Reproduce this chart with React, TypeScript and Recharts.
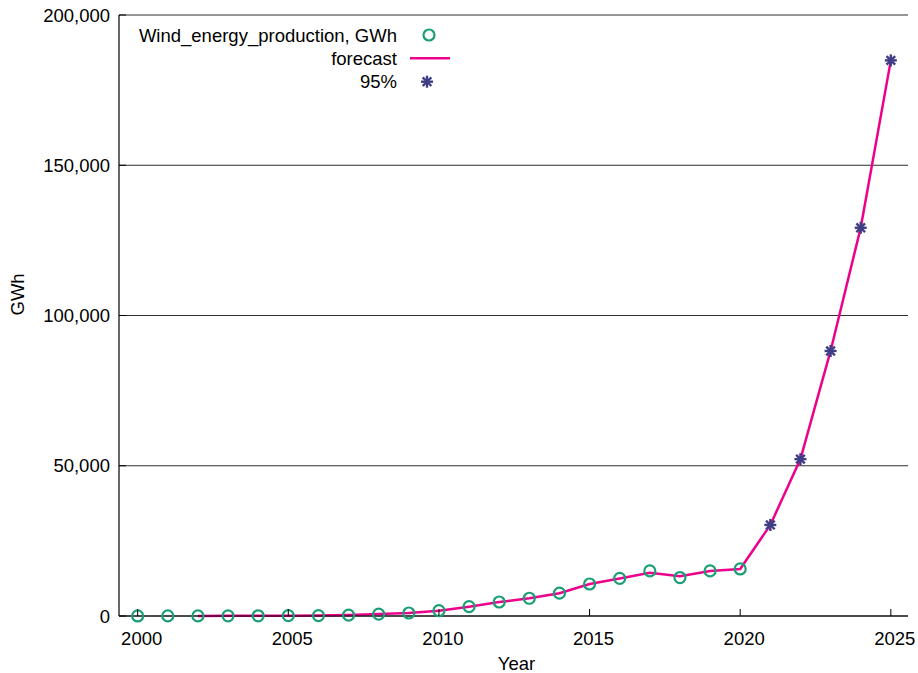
import React from 'react';
import {
  ComposedChart,
  Line,
  XAxis,
  YAxis,
  CartesianGrid,
  Label,
} from 'recharts';

// Years shown on the chart
const years = [
  2000, 2001, 2002, 2003, 2004, 2005, 2006, 2007, 2008, 2009, 2010, 2011, 2012,
  2013, 2014, 2015, 2016, 2017, 2018, 2019, 2020, 2021, 2022, 2023, 2024, 2025,
];

// Measured wind energy production, GWh (2000–2020)
const production = [
  10, 20, 30, 50, 70, 100, 150, 300, 650, 1000, 1760, 3100, 4660, 5900, 7600,
  10650, 12500, 15000, 12800, 15000, 15650,
];

// Model forecast, GWh (2002–2025)
const forecastStartYear = 2002;
const forecast = [
  30, 50, 70, 100, 150, 300, 650, 1000, 1760, 3100, 4660, 5900, 7600, 10650,
  12500, 14400, 13200, 15000, 15650, 30300, 52200, 88200, 129200, 184900,
];

// 95% bound, GWh (2021–2025)
const boundStartYear = 2021;
const bound95 = [30300, 52200, 88200, 129200, 184900];

const xTicks = [2000, 2005, 2010, 2015, 2020, 2025];
const yTicks = [0, 50000, 100000, 150000, 200000];

const seriesNames = ['Wind_energy_production, GWh', 'forecast', '95%'];

const GREEN = '#1b9e77';
const MAGENTA = '#ec008c';
const PURPLE = '#3f3d85';
const FONT = '"Liberation Sans", Arial, Helvetica, sans-serif';
const FONT_SIZE = 18.5;
const TICK_LEN = 7;
const CIRCLE_R = 5.5;
const CIRCLE_W = 2.2;

const rows = years.map((year, i) => {
  const fi = year - forecastStartYear;
  const bi = year - boundStartYear;
  return {
    year,
    production: i < production.length ? production[i] : null,
    forecast: fi >= 0 && fi < forecast.length ? forecast[fi] : null,
    bound: bi >= 0 && bi < bound95.length ? bound95[bi] : null,
  };
});

const fmt = (v: number) => v.toLocaleString('en-US');

function Star({ cx, cy, r = 6 }: { cx: number; cy: number; r?: number }) {
  const d = r * 0.72;
  return (
    <g stroke={PURPLE} strokeWidth={2.4} strokeLinecap="butt">
      <line x1={cx - r} y1={cy} x2={cx + r} y2={cy} />
      <line x1={cx} y1={cy - r} x2={cx} y2={cy + r} />
      <line x1={cx - d} y1={cy - d} x2={cx + d} y2={cy + d} />
      <line x1={cx - d} y1={cy + d} x2={cx + d} y2={cy - d} />
    </g>
  );
}

const circleDot = (props: any) => {
  const { cx, cy, index, value } = props;
  if (cy == null || value == null || isNaN(cy)) return <g key={`c${index}`} />;
  return (
    <circle
      key={`c${index}`}
      cx={cx}
      cy={cy}
      r={CIRCLE_R}
      fill="none"
      stroke={GREEN}
      strokeWidth={CIRCLE_W}
    />
  );
};

const starDot = (props: any) => {
  const { cx, cy, index, value } = props;
  if (cy == null || value == null || isNaN(cy)) return <g key={`s${index}`} />;
  return (
    <g key={`s${index}`}>
      <Star cx={cx} cy={cy} />
    </g>
  );
};

// Bottom axis: inward tick mark plus year label
const BottomTick = (props: any) => {
  const { x, y, payload } = props;
  const axisY = y - 22;
  return (
    <g>
      <line x1={x} x2={x} y1={axisY} y2={axisY - TICK_LEN} stroke="#000" strokeWidth={1} />
      <text
        x={x + 4}
        y={y}
        textAnchor="middle"
        dominantBaseline="central"
        fontFamily={FONT}
        fontSize={FONT_SIZE}
        fill="#000"
      >
        {payload.value}
      </text>
    </g>
  );
};

// Left axis: inward tick mark plus value label
const LeftTick = (props: any) => {
  const { x, y, payload } = props;
  const axisX = x + 9;
  return (
    <g>
      <line x1={axisX} x2={axisX + TICK_LEN} y1={y} y2={y} stroke="#000" strokeWidth={1} />
      <text
        x={x}
        y={y}
        textAnchor="end"
        dominantBaseline="central"
        fontFamily={FONT}
        fontSize={FONT_SIZE}
        fill="#000"
      >
        {fmt(payload.value)}
      </text>
    </g>
  );
};

// Mirrored tick marks on the top and right border
const TopTick = (props: any) => {
  const { x, y } = props;
  return <line x1={x} x2={x} y1={y} y2={y + TICK_LEN} stroke="#000" strokeWidth={1} />;
};

const RightTick = (props: any) => {
  const { x, y } = props;
  return <line x1={x} x2={x - TICK_LEN} y1={y} y2={y} stroke="#000" strokeWidth={1} />;
};

function KeyBox() {
  const textRight = 397;
  const symX = 429;
  const rowsY = [35, 58.3, 81.7];
  return (
    <svg
      width={918}
      height={110}
      style={{ position: 'absolute', left: 0, top: 0, pointerEvents: 'none' }}
    >
      {seriesNames.map((name, i) => (
        <text
          key={name}
          x={textRight}
          y={rowsY[i]}
          textAnchor="end"
          dominantBaseline="central"
          fontFamily={FONT}
          fontSize={FONT_SIZE}
          fill="#000"
        >
          {name}
        </text>
      ))}
      <circle cx={symX} cy={rowsY[0]} r={CIRCLE_R} fill="none" stroke={GREEN} strokeWidth={CIRCLE_W} />
      <line x1={410} x2={450} y1={rowsY[1]} y2={rowsY[1]} stroke={MAGENTA} strokeWidth={2.5} />
      <Star cx={symX - 2} cy={rowsY[2]} />
    </svg>
  );
}

export default function App() {
  return (
    <div style={{ position: 'absolute', left: 0, top: 0, width: 918, height: 673, background: '#fff' }}>
      <ComposedChart
        width={918}
        height={673}
        data={rows}
        margin={{ top: 15, right: 10, bottom: 0, left: 0 }}
      >
        <CartesianGrid vertical={false} stroke="#2e2e2e" strokeWidth={1} />
        <XAxis
          dataKey="year"
          type="number"
          domain={[1999.38, 2025.57]}
          allowDataOverflow
          ticks={xTicks}
          interval={0}
          height={57}
          tickSize={0}
          tickMargin={22}
          tick={<BottomTick />}
          axisLine={{ stroke: '#000', strokeWidth: 1.2 }}
        >
          <Label
            content={(p: any) => {
              const vb = p.viewBox;
              return (
                <text
                  x={vb.x + vb.width / 2 + 3}
                  y={vb.y + 47}
                  textAnchor="middle"
                  dominantBaseline="central"
                  fontFamily={FONT}
                  fontSize={FONT_SIZE}
                  fill="#000"
                >
                  Year
                </text>
              );
            }}
          />
        </XAxis>
        <XAxis
          xAxisId="top"
          dataKey="year"
          type="number"
          orientation="top"
          domain={[1999.38, 2025.57]}
          allowDataOverflow
          ticks={xTicks}
          interval={0}
          height={0}
          tickSize={0}
          tickMargin={0}
          tick={<TopTick />}
          axisLine={{ stroke: '#000', strokeWidth: 1.2 }}
        />
        <YAxis
          type="number"
          domain={[0, 200000]}
          ticks={yTicks}
          interval={0}
          width={119}
          tickSize={0}
          tickMargin={9}
          tick={<LeftTick />}
          axisLine={{ stroke: '#000', strokeWidth: 1.2 }}
        >
          <Label
            content={(p: any) => {
              const vb = p.viewBox;
              const cy = vb.y + vb.height / 2;
              return (
                <text
                  x={17.5}
                  y={cy}
                  transform={`rotate(-90 17.5 ${cy})`}
                  textAnchor="start"
                  dominantBaseline="central"
                  fontFamily={FONT}
                  fontSize={FONT_SIZE}
                  fill="#000"
                >
                  GWh
                </text>
              );
            }}
          />
        </YAxis>
        <YAxis
          yAxisId="right"
          orientation="right"
          type="number"
          domain={[0, 200000]}
          ticks={yTicks}
          interval={0}
          width={0}
          tickSize={0}
          tickMargin={0}
          tick={<RightTick />}
          axisLine={{ stroke: '#000', strokeWidth: 1.2 }}
        />
        <Line
          dataKey="production"
          name={seriesNames[0]}
          stroke="none"
          dot={circleDot}
          activeDot={false}
          isAnimationActive={false}
          connectNulls={false}
        />
        <Line
          dataKey="forecast"
          name={seriesNames[1]}
          type="linear"
          stroke={MAGENTA}
          strokeWidth={2.5}
          dot={false}
          activeDot={false}
          isAnimationActive={false}
          connectNulls={false}
        />
        <Line
          dataKey="bound"
          name={seriesNames[2]}
          stroke="none"
          dot={starDot}
          activeDot={false}
          isAnimationActive={false}
          connectNulls={false}
        />
      </ComposedChart>
      <KeyBox />
    </div>
  );
}
